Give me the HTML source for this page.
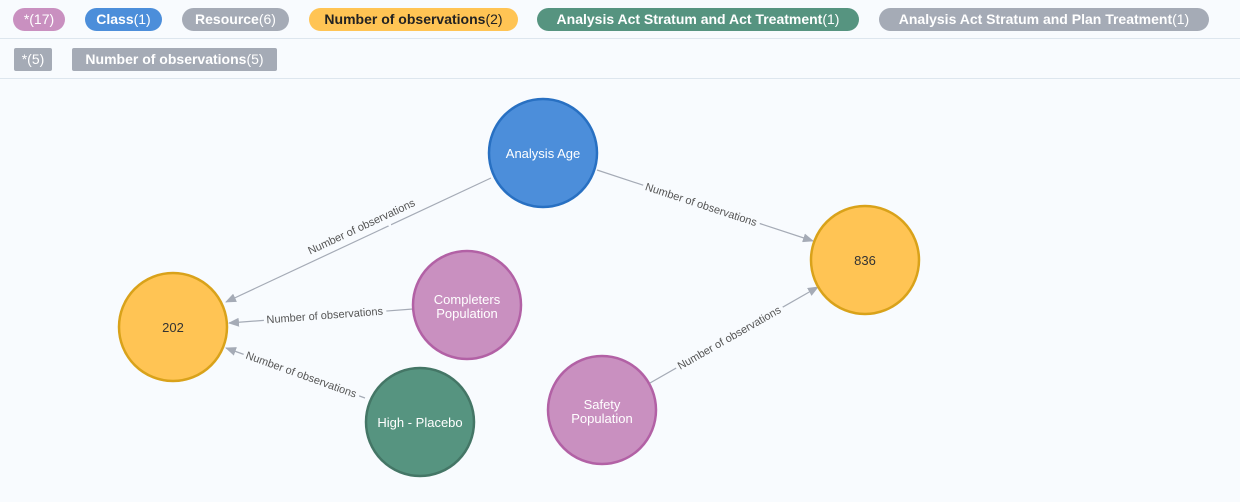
<!DOCTYPE html>
<html><head><meta charset="utf-8"><style>
body{margin:0;width:1240px;height:502px;background:#f8fbfe;font-family:"Liberation Sans",sans-serif;overflow:hidden;position:relative}
.p{position:absolute;height:23px;line-height:23px;font-size:14px;font-weight:bold;color:#fff;border-radius:12px;text-align:center;white-space:nowrap}
.p span{font-weight:normal}
.hr{position:absolute;left:0;width:1240px;height:1px;background:#dde6ee}
svg{position:absolute;left:0;top:0}
</style></head><body>
<div class="p" style="left:13px;top:8px;width:52px;background:#c990c0"><span>*(17)</span></div>
<div class="p" style="left:85px;top:8px;width:77px;background:#4c8eda">Class<span>(1)</span></div>
<div class="p" style="left:182px;top:8px;width:107px;background:#a5abb6">Resource<span>(6)</span></div>
<div class="p" style="left:309px;top:8px;width:209px;background:#ffc454;color:#222">Number of observations<span>(2)</span></div>
<div class="p" style="left:537px;top:8px;width:322px;background:#569480">Analysis Act Stratum and Act Treatment<span>(1)</span></div>
<div class="p" style="left:879px;top:8px;width:330px;background:#a5abb6">Analysis Act Stratum and Plan Treatment<span>(1)</span></div>
<div class="hr" style="top:38px"></div>
<div class="p" style="left:14px;top:48px;width:38px;border-radius:2px;background:#a5abb6"><span>*(5)</span></div>
<div class="p" style="left:72px;top:48px;width:205px;border-radius:2px;background:#a5abb6">Number of observations<span>(5)</span></div>
<div class="hr" style="top:78px"></div>
<svg width="1240" height="502">
<defs><marker id="a" markerWidth="11" markerHeight="9" refX="10" refY="4.5" orient="auto" markerUnits="userSpaceOnUse"><path d="M0,0L11,4.5L0,9z" fill="#a5abb6"/></marker></defs>
<g stroke="#a5abb6" stroke-width="1.2" marker-end="url(#a)">
<line x1="491" y1="178" x2="226" y2="302"/>
<line x1="413" y1="309" x2="229" y2="323"/>
<line x1="365" y1="398" x2="226" y2="348"/>
<line x1="597" y1="170" x2="813" y2="241"/>
<line x1="650" y1="383" x2="818" y2="287"/>
</g>
<g font-size="11" fill="#555" text-anchor="middle" stroke="#f8fbfe" stroke-width="7" paint-order="stroke">
<text transform="translate(363,230) rotate(-25)">Number of observations</text>
<text transform="translate(325,319) rotate(-4.3)">Number of observations</text>
<text transform="translate(300,378) rotate(19.8)">Number of observations</text>
<text transform="translate(700,208) rotate(18.2)">Number of observations</text>
<text transform="translate(731,341) rotate(-29.7)">Number of observations</text>
</g>
<g stroke-width="2.5">
<circle cx="543" cy="153" r="54" fill="#4c8eda" stroke="#2870c2"/>
<circle cx="865" cy="260" r="54" fill="#ffc454" stroke="#d9a21a"/>
<circle cx="173" cy="327" r="54" fill="#ffc454" stroke="#d9a21a"/>
<circle cx="467" cy="305" r="54" fill="#c990c0" stroke="#b261a5"/>
<circle cx="420" cy="422" r="54" fill="#569480" stroke="#447666"/>
<circle cx="602" cy="410" r="54" fill="#c990c0" stroke="#b261a5"/>
</g>
<g font-size="13" text-anchor="middle" fill="#fff">
<text x="543" y="158">Analysis Age</text>
<text x="865" y="265" fill="#333">836</text>
<text x="173" y="332" fill="#333">202</text>
<text x="467" y="304">Completers</text>
<text x="467" y="318">Population</text>
<text x="420" y="427">High - Placebo</text>
<text x="602" y="409">Safety</text>
<text x="602" y="423">Population</text>
</g>
</svg>
</body></html>
